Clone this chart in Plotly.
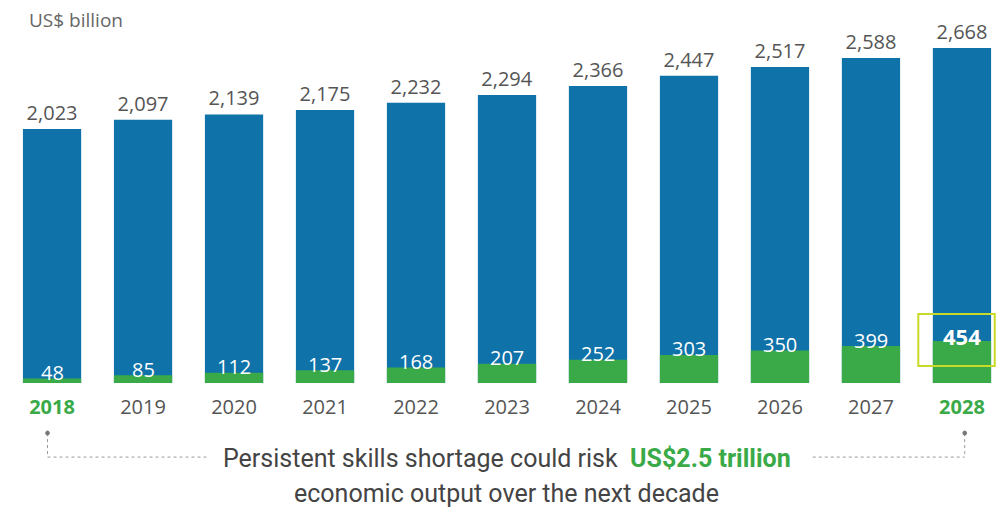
import plotly.graph_objects as go

years = [2018, 2019, 2020, 2021, 2022, 2023, 2024, 2025, 2026, 2027, 2028]
total_output = [2023, 2097, 2139, 2175, 2232, 2294, 2366, 2447, 2517, 2588, 2668]
at_risk = [48, 85, 112, 137, 168, 207, 252, 303, 350, 399, 454]
highlight_years = [2018, 2028]

BLUE = "#0f72a8"
GREEN = "#3aaa48"
GRAY = "#555555"

tick_text = [
    f"<b><span style='color:{GREEN}'>{y}</span></b>" if y in highlight_years else str(y)
    for y in years
]
total_text = [f"{v:,}" for v in total_output]

fig = go.Figure()
fig.add_trace(go.Bar(
    x=years, y=total_output, marker=dict(color=BLUE, line=dict(width=0)),
    width=0.64, text=total_text, textposition="outside",
    textfont=dict(family="Open Sans", size=20, color=GRAY),
    cliponaxis=False, yaxis="y", hoverinfo="skip", showlegend=False,
))
fig.add_trace(go.Bar(
    x=years, y=at_risk, marker=dict(color=GREEN, line=dict(width=0)),
    width=0.64, yaxis="y2", hoverinfo="skip", showlegend=False,
))

annotations = [
    dict(text="US$ billion", xref="paper", yref="paper", x=0.027, y=1.058,
         xanchor="left", yanchor="middle", showarrow=False,
         font=dict(family="Open Sans", size=19, color="#666666")),
    dict(text=f"Persistent skills shortage could risk  <b><span style='color:{GREEN}'>US$2.5 trillion</span></b>",
         xref="paper", yref="paper", x=0.509, y=-0.219, xanchor="center", yanchor="middle",
         showarrow=False, font=dict(family="Liberation Sans Narrow, Roboto", size=25, color="#444444")),
    dict(text="economic output over the next decade",
         xref="paper", yref="paper", x=0.509, y=-0.321, xanchor="center", yanchor="middle",
         showarrow=False, font=dict(family="Liberation Sans Narrow, Roboto", size=25, color="#444444")),
]
for y, v in zip(years, at_risk):
    last = (y == years[-1])
    annotations.append(dict(
        text=f"<b>{v}</b>" if last else str(v), x=y, y=v, xref="x", yref="y2",
        xanchor="center", yanchor="middle", yshift=5 if last else 6, showarrow=False,
        font=dict(family="Open Sans", size=22 if last else 20, color="white"),
    ))

line_style = dict(color="#9a9a9a", width=1, dash="dot")
shapes = [
    dict(type="line", xref="x", yref="paper", x0=2017.95, x1=2017.95, y0=-0.146, y1=-0.216, line=line_style),
    dict(type="line", xref="x", yref="paper", x0=2017.95, x1=2019.72, y0=-0.216, y1=-0.216, line=line_style),
    dict(type="line", xref="x", yref="paper", x0=2028.03, x1=2028.03, y0=-0.146, y1=-0.216, line=line_style),
    dict(type="line", xref="x", yref="paper", x0=2026.36, x1=2028.03, y0=-0.216, y1=-0.216, line=line_style),
    dict(type="circle", xref="x", yref="paper", x0=2017.93, x1=2017.97, y0=-0.140, y1=-0.152,
         line=dict(color="#777777", width=1), fillcolor="#777777"),
    dict(type="circle", xref="x", yref="paper", x0=2028.01, x1=2028.05, y0=-0.140, y1=-0.152,
         line=dict(color="#777777", width=1), fillcolor="#777777"),
    dict(type="rect", xref="x", yref="y2", x0=2027.52, x1=2028.36, y0=184, y1=746,
         line=dict(color="#c9d927", width=2), fillcolor="rgba(0,0,0,0)"),
]

fig.update_layout(
    width=996, height=512,
    margin=dict(l=0, r=0, t=40, b=129),
    paper_bgcolor="white", plot_bgcolor="white",
    barmode="overlay",
    xaxis=dict(range=[2017.428, 2028.374], tickvals=years, ticktext=tick_text,
               showgrid=False, zeroline=False, showline=False,
               ticks="outside", ticklen=6, tickcolor="rgba(0,0,0,0)",
               tickfont=dict(family="Open Sans", size=20, color=GRAY)),
    yaxis=dict(range=[0, 2732], visible=False, showgrid=False),
    yaxis2=dict(range=[0, 3708], visible=False, overlaying="y", showgrid=False),
    annotations=annotations, shapes=shapes,
    font=dict(family="Open Sans"),
)

fig.write_html("out.html", config={"displayModeBar": False},
               post_script="document.body.style.margin='0';document.body.style.overflow='hidden';")
